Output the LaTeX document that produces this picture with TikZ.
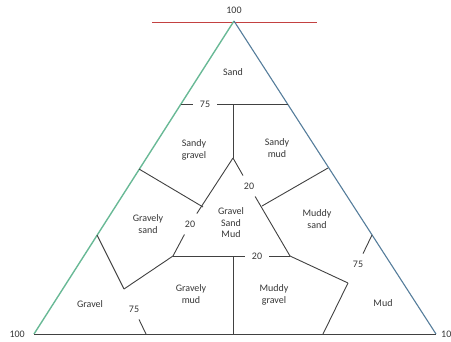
\documentclass[tikz,border=0pt]{standalone}
\usepackage{fontspec}
\setmainfont{Carlito}
\usetikzlibrary{positioning}
\definecolor{ink}{RGB}{55,55,55}
\definecolor{rule}{RGB}{65,65,65}
\definecolor{green}{RGB}{105,185,150}
\definecolor{blue}{RGB}{85,125,155}
\definecolor{red}{RGB}{195,65,65}
\begin{document}
\begin{tikzpicture}[x=1pt,y=-1pt,
  lbl/.style={font=\fontsize{10}{11.5}\selectfont,text=ink,align=center,inner sep=1pt},
  num/.style={lbl,inner sep=7pt},
  part/.style={draw=rule,line width=.9pt}]
\useasboundingbox (0,0) rectangle (451,341);
\coordinate (top) at (234,21); \coordinate (bl) at (34,334); \coordinate (br) at (436,334);
\coordinate (redL) at (152,22); \coordinate (redR) at (317,22);
\coordinate (t75L) at (181,104); \coordinate (t75R) at (288,104); \coordinate (t75M) at (233,104);
\coordinate (ctr) at (233,158); \coordinate (ibl) at (173,256); \coordinate (ibr) at (290,256);
\coordinate (jl) at (203,207); \coordinate (el) at (139,169);
\coordinate (jr) at (262,206); \coordinate (er) at (328,168);
\coordinate (ibm) at (233,256); \coordinate (bm) at (233,334);
\coordinate (lA) at (97,235); \coordinate (lB) at (146,334); \coordinate (j1) at (124,289);
\coordinate (rA) at (372,235); \coordinate (rB) at (323,334); \coordinate (j2) at (348,283);
\draw[red,line width=.8pt] (redL)--(redR);
\draw[green,line width=1.4pt] (top)--(bl);
\draw[blue,line width=1.1pt] (top)--(br);
\draw[rule,line width=1pt] (bl)--(br);
\node[lbl,above=6pt of top] (ntop) {100};
\node[lbl,left=8pt of bl] (nbl) {100};
\node[lbl,right=4pt of br] (nbr) {100};
\node[num] (n75t) at (205,104) {75};
\node[num] (n75l) at (134,309) {75};
\node[num] (n75r) at (358,264) {75};
\node[num] (n20l) at (190,224) {20};
\node[num] (n20r) at (249,186) {20};
\node[num] (n20b) at (257,256) {20};
\draw[part] (t75L)--(n75t)--(t75R); \draw[part] (t75M)--(ctr);
\draw[part] (ctr)--(n20l)--(ibl); \draw[part] (ctr)--(n20r)--(ibr); \draw[part] (ibl)--(n20b)--(ibr);
\draw[part] (el)--(jl); \draw[part] (er)--(jr); \draw[part] (ibm)--(bm);
\draw[part] (lA)--(j1); \draw[part] (n75l)--(lB); \draw[part] (ibl)--(j1);
\draw[part] (rA)--(n75r); \draw[part] (j2)--(rB); \draw[part] (ibr)--(j2);
\node[lbl] (sand) at (233,72) {Sand};
\node[lbl] (sgravel) at (194,150) {Sandy\\gravel};
\node[lbl] (smud) at (277,148) {Sandy\\mud};
\node[lbl] (gsand) at (148,224) {Gravely\\sand};
\node[lbl] (gsm) at (231,223) {Gravel\\Sand\\Mud};
\node[lbl] (msand) at (317,219) {Muddy\\sand};
\node[lbl] (gravel) at (90,304) {Gravel};
\node[lbl] (gmud) at (191,294) {Gravely\\mud};
\node[lbl] (mgravel) at (274,295) {Muddy\\gravel};
\node[lbl] (mud) at (383,303) {Mud};
\end{tikzpicture}
\end{document}
